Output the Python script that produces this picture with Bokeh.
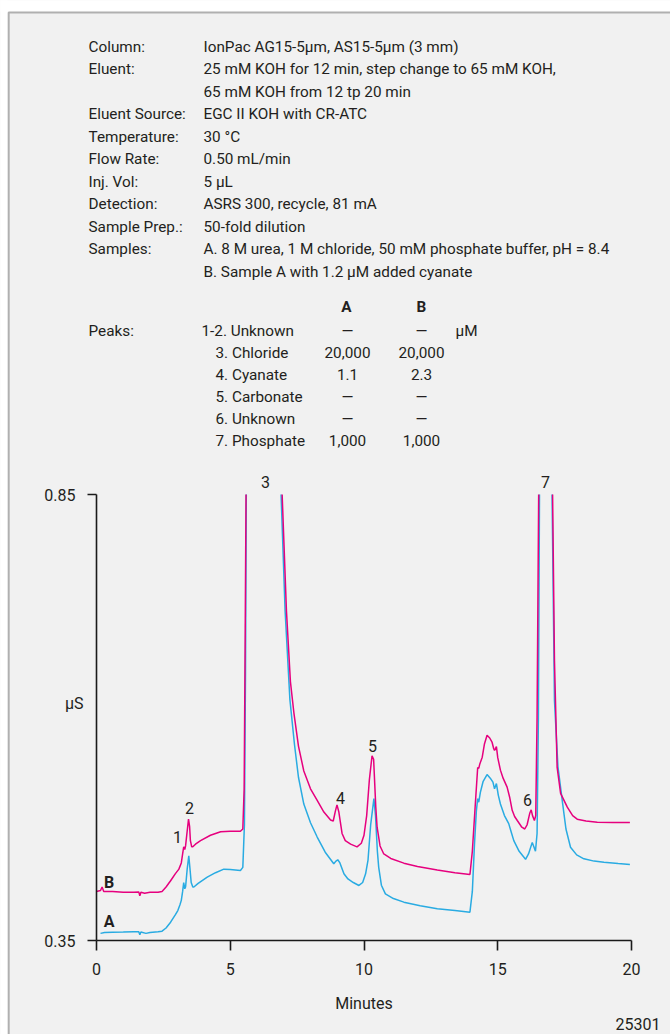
import numpy as np
from bokeh.plotting import figure
from bokeh.models import ColumnDataSource, LabelSet, BoxAnnotation, FixedTicker, Range1d
from bokeh.embed import file_html
from bokeh.resources import INLINE
from bokeh.core.properties import value

# ---------------- data ----------------
# None = signal off scale (above 0.85 µS)
time_A = [0.15, 0.3, 0.6, 1.0, 1.4, 1.58, 1.62, 1.66, 1.85, 2.0, 2.3, 2.45, 2.6, 2.77, 2.95, 3.04, 3.12,
          3.17, 3.22, 3.26, 3.30, 3.33, 3.39, 3.45, 3.49, 3.54, 3.6, 3.64, 3.8, 4.14, 4.45, 4.76, 5.0,
          5.38, 5.47, 5.53, 5.57, 5.6, 6.2, 6.9, 7.05, 7.23, 7.4, 7.55, 7.75, 8.0, 8.25, 8.55, 8.87,
          8.95, 9.02, 9.1, 9.25, 9.4, 9.6, 9.81, 9.95, 10.06, 10.15, 10.25, 10.37, 10.43, 10.5, 10.55,
          10.65, 10.8, 11.1, 11.49, 12.1, 12.74, 13.4, 13.96, 14.05, 14.13, 14.2, 14.25, 14.29, 14.35,
          14.45, 14.6, 14.72, 14.82, 14.88, 14.95, 15.02, 15.1, 15.25, 15.41, 15.5, 15.6, 15.8, 16.04,
          16.15, 16.29, 16.35, 16.41, 16.47, 16.52, 16.56, 16.8, 17.03, 17.12, 17.25, 17.41, 17.55,
          17.72, 17.95, 18.22, 18.6, 18.97, 19.5, 19.94]
signal_A = [0.358, 0.359, 0.3593, 0.3595, 0.3598, 0.3598, 0.3565, 0.3595, 0.358, 0.359, 0.3598, 0.3605,
            0.364, 0.3705, 0.379, 0.3836, 0.390, 0.395, 0.405, 0.415, 0.408, 0.410, 0.430, 0.445, 0.432,
            0.415, 0.410, 0.410, 0.414, 0.421, 0.426, 0.430, 0.4295, 0.4285, 0.432, 0.48, 0.65, 0.85,
            None, 0.85, 0.72, 0.62, 0.57, 0.533, 0.503, 0.482, 0.466, 0.449, 0.436, 0.439, 0.4405, 0.437,
            0.4248, 0.419, 0.415, 0.4117, 0.415, 0.4248, 0.44, 0.48, 0.509, 0.49, 0.45, 0.432, 0.412,
            0.4023, 0.397, 0.393, 0.389, 0.3855, 0.3835, 0.3818, 0.405, 0.458, 0.495, 0.509, 0.505,
            0.516, 0.528, 0.536, 0.532, 0.5275, 0.520, 0.526, 0.513, 0.503, 0.490, 0.481, 0.472, 0.462,
            0.450, 0.441, 0.447, 0.460, 0.455, 0.450, 0.47, 0.60, 0.85, None, 0.85, 0.619, 0.545, 0.507,
            0.475, 0.4546, 0.446, 0.4416, 0.439, 0.4378, 0.4362, 0.4352]

time_B = [0.0, 0.15, 0.21, 0.27, 0.6, 1.0, 1.4, 1.58, 1.62, 1.66, 1.8, 2.0, 2.3, 2.45, 2.6, 2.77, 2.95,
          3.08, 3.17, 3.22, 3.26, 3.30, 3.33, 3.38, 3.44, 3.48, 3.51, 3.56, 3.6, 3.7, 3.89, 4.26, 4.64,
          5.0, 5.38, 5.47, 5.52, 5.56, 5.59, 6.2, 6.94, 7.1, 7.25, 7.38, 7.55, 7.75, 8.0, 8.25, 8.5,
          8.75, 8.85, 8.93, 8.99, 9.06, 9.18, 9.3, 9.5, 9.74, 9.9, 10.0, 10.1, 10.2, 10.3, 10.36, 10.44,
          10.49, 10.6, 10.74, 11.0, 11.49, 12.0, 12.74, 13.4, 13.96, 14.05, 14.17, 14.25, 14.29, 14.33,
          14.42, 14.5, 14.6, 14.7, 14.79, 14.85, 14.88, 14.95, 15.0, 15.1, 15.2, 15.35, 15.45, 15.54,
          15.63, 15.73, 15.9, 16.01, 16.1, 16.2, 16.25, 16.3, 16.37, 16.42, 16.47, 16.53, 16.8, 17.05,
          17.12, 17.22, 17.35, 17.6, 17.8, 17.97, 18.3, 18.72, 19.3, 19.94]
signal_B = [0.405, 0.406, 0.410, 0.405, 0.405, 0.404, 0.404, 0.4045, 0.400, 0.404, 0.403, 0.404, 0.404,
            0.405, 0.410, 0.417, 0.425, 0.430, 0.437, 0.447, 0.455, 0.452, 0.456, 0.470, 0.486, 0.478,
            0.462, 0.455, 0.455, 0.458, 0.462, 0.468, 0.472, 0.4725, 0.4725, 0.475, 0.52, 0.70, 0.85,
            None, 0.85, 0.72, 0.64, 0.605, 0.568, 0.540, 0.520, 0.507, 0.494, 0.485, 0.484, 0.495, 0.502,
            0.494, 0.470, 0.462, 0.458, 0.455, 0.459, 0.468, 0.49, 0.53, 0.557, 0.553, 0.50, 0.477,
            0.456, 0.447, 0.442, 0.4367, 0.433, 0.429, 0.426, 0.424, 0.45, 0.507, 0.544, 0.543, 0.548,
            0.5555, 0.570, 0.580, 0.577, 0.572, 0.565, 0.563, 0.5675, 0.555, 0.541, 0.532, 0.522, 0.51,
            0.496, 0.489, 0.4845, 0.477, 0.475, 0.480, 0.493, 0.4965, 0.490, 0.4845, 0.49, 0.60, 0.85,
            None, 0.85, 0.664, 0.544, 0.515, 0.4995, 0.490, 0.486, 0.484, 0.4826, 0.4824, 0.4823]

x_ticks = [0, 5, 10, 15, 20]
y_ticks = [0.35, 0.85]

param_labels = ["Column:", "Eluent:", "", "Eluent Source:", "Temperature:", "Flow Rate:",
                "Inj. Vol:", "Detection:", "Sample Prep.:", "Samples:", ""]
param_values = ["IonPac AG15-5\u00b5m, AS15-5\u00b5m (3 mm)",
                "25 mM KOH for 12 min, step change to 65 mM KOH,",
                "65 mM KOH from 12 tp 20 min",
                "EGC II KOH with CR-ATC",
                "30 \u00b0C",
                "0.50 mL/min",
                "5 \u00b5L",
                "ASRS 300, recycle, 81 mA",
                "50-fold dilution",
                "A. 8 M urea, 1 M chloride, 50 mM phosphate buffer, pH = 8.4",
                "B. Sample A with 1.2 \u00b5M added cyanate"]

peak_names = ["1-2. Unknown", "3. Chloride", "4. Cyanate", "5. Carbonate", "6. Unknown", "7. Phosphate"]
conc_A = ["\u2014", "20,000", "1.1", "\u2014", "\u2014", "1,000"]
conc_B = ["\u2014", "20,000", "2.3", "\u2014", "\u2014", "1,000"]
conc_unit = "\u00b5M"
sample_headers = ["A", "B"]

peak_numbers = ["1", "2", "3", "4", "5", "6", "7"]
trace_names = ["B", "A"]

# ---------------- layout ----------------
FONT = "Roboto"
TS = "15.3px"      # text block size
CS = "16px"        # chart text size
BG = "#f1f1f1"
TXT = "#231f20"
INK = "#1a1a1a"
COL_A = "#29abe2"
COL_B = "#e6007e"

W, H = 670, 1034
# where the axes sit, in canvas pixels
PL, PR, PT, PB = 96, 631, 494, 940
X0, X1, Y0, Y1 = 0.0, 20.0, 0.35, 0.85


def tx(px):
    return X0 + (px - PL) * (X1 - X0) / (PR - PL)


def ty(py):
    return Y0 + (PB - py) * (Y1 - Y0) / (PB - PT)


p = figure(width=W, height=H, x_range=Range1d(tx(0), tx(W)), y_range=Range1d(ty(H), ty(0)),
           output_backend="svg", toolbar_location=None,
           min_border=0, min_border_left=0, min_border_right=0, min_border_top=0, min_border_bottom=0,
           background_fill_color=BG, border_fill_color=BG, outline_line_color=None)
p.xgrid.visible = False
p.ygrid.visible = False

for ax in (p.xaxis[0], p.yaxis[0]):
    ax.axis_line_color = INK
    ax.axis_line_width = 1.6
    ax.major_tick_line_color = INK
    ax.major_tick_line_width = 1.6
    ax.major_tick_in = 0
    ax.minor_tick_in = 0
    ax.minor_tick_out = 0
    ax.major_label_text_font = FONT
    ax.major_label_text_font_size = CS
    ax.major_label_text_color = TXT

p.xaxis.fixed_location = Y0
p.xaxis.bounds = (X0, X1)
p.xaxis.ticker = FixedTicker(ticks=x_ticks)
p.xaxis.major_tick_out = 10
p.xaxis.major_label_standoff = 12
p.xaxis.axis_label = "Minutes"
p.xaxis.axis_label_text_font = FONT
p.xaxis.axis_label_text_font_size = CS
p.xaxis.axis_label_text_font_style = "normal"
p.xaxis.axis_label_text_color = TXT
p.xaxis.axis_label_standoff = 16

p.yaxis.fixed_location = X0
p.yaxis.bounds = (Y0, Y1)
p.yaxis.ticker = FixedTicker(ticks=y_ticks)
p.yaxis.major_tick_out = 9
p.yaxis.major_label_standoff = 12

# traces
p.line(time_A, np.array(signal_A, dtype=float), line_color=COL_A, line_width=1.5)
p.line(time_B, np.array(signal_B, dtype=float), line_color=COL_B, line_width=1.5)

# white page margin and the left/top border line
p.add_layout(BoxAnnotation(left=tx(-20), right=tx(W + 20), top=ty(-20), bottom=ty(11),
                           fill_color="white", fill_alpha=1.0, line_color=None))
p.add_layout(BoxAnnotation(left=tx(-20), right=tx(7.2), top=ty(-20), bottom=ty(H + 20),
                           fill_color="white", fill_alpha=1.0, line_color=None))
p.add_layout(BoxAnnotation(left=tx(8.2), right=tx(W + 40), top=ty(12), bottom=ty(H + 40),
                           fill_color=None, fill_alpha=0, line_color=INK, line_width=2))


def add_texts(texts, pxs, pys, align="left", bold=False, size=TS):
    src = ColumnDataSource(dict(x=[tx(v) for v in pxs], y=[ty(v) for v in pys], text=texts))
    p.add_layout(LabelSet(x="x", y="y", text="text", source=src, text_align=align,
                          text_baseline="alphabetic", text_font=value(FONT), text_font_size=size,
                          text_color=TXT, text_font_style="bold" if bold else "normal"))


# conditions block
row_base = [51 + 22.5 * i for i in range(len(param_values))]
add_texts(param_labels, [88] * len(param_labels), row_base)
add_texts(param_values, [203] * len(param_values), row_base)

# peaks table
peak_rows = [335 + 22.1 * i for i in range(len(peak_names))]
add_texts(sample_headers, [346, 421], [311, 311], align="center", bold=True)
add_texts(["Peaks:"], [88], [peak_rows[0]])
add_texts(peak_names, [201] + [215] * (len(peak_names) - 1), peak_rows)
add_texts(conc_A, [347] * len(conc_A), peak_rows, align="center")
add_texts(conc_B, [421] * len(conc_B), peak_rows, align="center")
add_texts([conc_unit], [455], [peak_rows[0]])

# chart labels
add_texts(peak_numbers, [177, 189, 265, 340, 372, 527, 545], [842, 813, 487, 803, 751, 805, 487],
          align="center", size=CS)
add_texts(trace_names, [108.5, 108.5], [887, 926], align="center", bold=True, size=CS)
add_texts(["\u00b5S"], [83], [708], align="right", size=CS)
add_texts(["25301"], [660], [1029], align="right", size=CS)

open("out.html", "w").write(file_html(p, INLINE))
